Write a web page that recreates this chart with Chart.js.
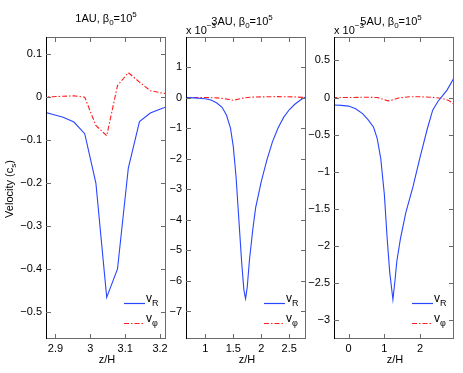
<!DOCTYPE html>
<html><head><meta charset="utf-8">
<script src="https://cdn.jsdelivr.net/npm/chart.js@4.4.0/dist/chart.umd.min.js"></script>
<style>
html,body{margin:0;padding:0;background:#fff;}
#wrap{position:relative;width:463px;height:373px;overflow:hidden;}
canvas{position:absolute;left:0;top:0;}
</style></head><body>
<div id="wrap">
<canvas id="c1" width="463" height="373"></canvas>
<canvas id="c2" width="463" height="373"></canvas>
<canvas id="c3" width="463" height="373"></canvas>
</div>
<script>
// ---------- data ----------
const panelTitles = ['1AU', '3AU', '5AU'];
const betaExp = '5';
const seriesSubs = ['R', 'φ'];

// Panel 1 (1AU)
const z1 = [2.859, 2.891, 2.922, 2.953, 2.984, 3.016, 3.047, 3.078, 3.109, 3.141, 3.172, 3.203, 3.234];
const vR1 = [-0.033, -0.040, -0.047, -0.058, -0.085, -0.20, -0.466, -0.40, -0.165, -0.057, -0.037, -0.027, -0.018];
const vPhi1 = [0.0, 0.001, 0.002, 0.003, 0.0, -0.066, -0.09, 0.027, 0.057, 0.035, 0.015, 0.010, 0.006];
const xTicks1 = [2.9, 3, 3.1, 3.2];
const yTicks1 = [-0.5, -0.4, -0.3, -0.2, -0.1, 0, 0.1];

// Panel 2 (3AU), values in units of 1e-3
const z2 = [0.60, 0.80, 1.00, 1.10, 1.20, 1.30, 1.38, 1.45, 1.50, 1.55, 1.60, 1.65, 1.69, 1.72, 1.75, 1.79, 1.85, 1.90, 2.00, 2.10, 2.20, 2.30, 2.40, 2.50, 2.60, 2.70, 2.80];
const vR2 = [0.0, -0.01, -0.04, -0.08, -0.17, -0.32, -0.58, -1.0, -1.6, -2.6, -4.0, -5.4, -6.3, -6.58, -6.2, -5.3, -4.3, -3.6, -2.75, -2.05, -1.45, -1.0, -0.65, -0.40, -0.22, -0.08, 0.03];
const zPhi2 = [0.60, 1.00, 1.20, 1.35, 1.50, 1.60, 1.70, 1.80, 2.00, 2.30, 2.60, 2.80];
const vPhi2 = [0.0, 0.0, -0.01, -0.04, -0.09, -0.05, -0.01, 0.01, 0.02, 0.03, 0.02, 0.0];
const xTicks2 = [1, 1.5, 2, 2.5];
const yTicks2 = [-7, -6, -5, -4, -3, -2, -1, 0, 1];

// Panel 3 (5AU), values in units of 1e-3
const z3 = [-0.45, -0.2, 0.0, 0.2, 0.4, 0.55, 0.7, 0.8, 0.9, 1.0, 1.08, 1.15, 1.24, 1.30, 1.35, 1.45, 1.6, 1.8, 2.0, 2.2, 2.35, 2.5, 2.6, 2.75, 2.95];
const vR3 = [-0.10, -0.105, -0.115, -0.15, -0.22, -0.30, -0.40, -0.55, -0.82, -1.30, -1.90, -2.35, -2.72, -2.45, -2.2, -1.9, -1.55, -1.2, -0.80, -0.42, -0.17, -0.05, 0.01, 0.10, 0.27];
const zPhi3 = [-0.45, 0.0, 0.5, 0.8, 0.95, 1.1, 1.25, 1.4, 1.7, 2.0, 2.3, 2.6, 2.8, 2.95];
const vPhi3 = [0.0, 0.0, 0.005, 0.0, -0.02, -0.045, -0.03, -0.005, 0.01, 0.01, 0.005, -0.01, -0.04, -0.09];
const xTicks3 = [0, 1, 2];
const yTicks3 = [-3, -2.5, -2, -1.5, -1, -0.5, 0, 0.5];

// ---------- drawing ----------
const FONT = '"Liberation Sans", Arial, Helvetica, sans-serif';
const BLUE = 'rgb(40,70,255)';
const RED = 'rgb(255,30,30)';
const FRAME = '#6a6a6a';
const DASH = [5, 2, 1.5, 2];

function fmt(v) {
  const s = String(Math.round(v * 1000) / 1000);
  return s.replace('-', '\u2212');
}

function rich(ctx, pieces, x, y, align) {
  let w = 0;
  pieces.forEach(p => { ctx.font = p.size + 'px ' + FONT; w += ctx.measureText(p.t).width; });
  let cx = align === 'center' ? x - w / 2 : x;
  ctx.textBaseline = 'alphabetic';
  ctx.textAlign = 'left';
  pieces.forEach(p => {
    ctx.font = p.size + 'px ' + FONT;
    ctx.fillText(p.t, cx, y + (p.dy || 0));
    cx += ctx.measureText(p.t).width;
  });
}

function makePanel(id, box, zr, vr, zp, vp, xT, yT, xr, yr, title, titleX, titleY, exponent, yLabel) {
  const deco = {
    id: 'deco' + id,
    afterDraw(chart) {
      const ctx = chart.ctx, a = chart.chartArea;
      const xs = chart.scales.x, ys = chart.scales.y;
      ctx.save();
      ctx.globalAlpha = 1;
      // frame
      ctx.lineWidth = 1;
      ctx.strokeStyle = FRAME;
      ctx.beginPath();
      ctx.moveTo(a.left, a.top + 0.5); ctx.lineTo(a.right, a.top + 0.5);
      ctx.moveTo(a.right - 0.5, a.top); ctx.lineTo(a.right - 0.5, a.bottom);
      ctx.moveTo(a.left, a.bottom - 0.5); ctx.lineTo(a.right, a.bottom - 0.5);
      ctx.stroke();
      ctx.strokeStyle = '#000';
      ctx.beginPath();
      ctx.moveTo(a.left + 0.5, a.top); ctx.lineTo(a.left + 0.5, a.bottom);
      ctx.stroke();
      // inward ticks
      ctx.strokeStyle = FRAME;
      ctx.beginPath();
      const TL = 5;
      xT.forEach(v => {
        const px = Math.round(xs.getPixelForValue(v)) + 0.5;
        ctx.moveTo(px, a.top); ctx.lineTo(px, a.top + TL);
        ctx.moveTo(px, a.bottom); ctx.lineTo(px, a.bottom - TL);
      });
      yT.forEach(v => {
        const py = Math.round(ys.getPixelForValue(v)) + 0.5;
        ctx.moveTo(a.left, py); ctx.lineTo(a.left + TL, py);
        ctx.moveTo(a.right, py); ctx.lineTo(a.right - TL, py);
      });
      ctx.stroke();
      // legend
      const lx0 = a.right - 42, lx1 = a.right - 21;
      ctx.lineWidth = 1.2;
      ctx.setLineDash([]);
      ctx.strokeStyle = chart.data.datasets[0].borderColor;
      ctx.beginPath(); ctx.moveTo(lx0, 303.5); ctx.lineTo(lx1, 303.5); ctx.stroke();
      ctx.strokeStyle = chart.data.datasets[1].borderColor;
      ctx.setLineDash(DASH);
      ctx.beginPath(); ctx.moveTo(lx0, 323.5); ctx.lineTo(lx1, 323.5); ctx.stroke();
      ctx.setLineDash([]);
      ctx.fillStyle = '#000';
      rich(ctx, [{t: 'v', size: 12}, {t: seriesSubs[0], size: 9, dy: 4}], lx1 + 1, 302, 'left');
      rich(ctx, [{t: 'v', size: 12}, {t: seriesSubs[1], size: 9, dy: 4}], lx1 + 1, 322, 'left');
      // title
      rich(ctx, [{t: title + ', β', size: 11}, {t: '0', size: 8, dy: 3}, {t: '=10', size: 11}, {t: betaExp, size: 8, dy: -5}], titleX, titleY, 'center');
      // exponent
      if (exponent) {
        rich(ctx, [{t: 'x 10', size: 11}, {t: '\u2212' + exponent, size: 8, dy: -6}], a.left, 34, 'left');
      }
      // x label
      ctx.font = '11px ' + FONT; ctx.textAlign = 'center'; ctx.textBaseline = 'middle';
      ctx.fillText('z/H', (a.left + a.right) / 2 + 1, 360);
      // y label
      if (yLabel) {
        ctx.save();
        ctx.translate(9, 189);
        ctx.rotate(-Math.PI / 2);
        rich(ctx, [{t: 'Velocity (c', size: 11}, {t: 's', size: 8, dy: 3}, {t: ')', size: 11}], 0, 4, 'center');
        ctx.restore();
      }
      ctx.restore();
    }
  };
  new Chart(document.getElementById(id), {
    type: 'line',
    data: {
      datasets: [
        {label: 'vR', data: zr.map((x, i) => ({x: x, y: vr[i]})), borderColor: BLUE, borderWidth: 1.1, pointRadius: 0, tension: 0, fill: false},
        {label: 'vphi', data: zp.map((x, i) => ({x: x, y: vp[i]})), borderColor: RED, borderWidth: 1.1, borderDash: DASH, pointRadius: 0, tension: 0, fill: false}
      ]
    },
    options: {
      responsive: false, animation: false, devicePixelRatio: 1,
      layout: {padding: {left: box.l - 40, right: 463 - box.r, top: box.t, bottom: 373 - box.b - 20}},
      plugins: {legend: {display: false}, tooltip: {enabled: false}, title: {display: false}},
      scales: {
        x: {
          type: 'linear', min: xr[0], max: xr[1],
          afterBuildTicks: s => { s.ticks = xT.map(v => ({value: v})); },
          afterFit: s => { s.height = 20; },
          grid: {display: false, drawTicks: false}, border: {display: false},
          ticks: {padding: 3, color: '#000', font: {family: FONT, size: 11}, callback: v => fmt(v), maxRotation: 0, autoSkip: false}
        },
        y: {
          type: 'linear', min: yr[0], max: yr[1],
          afterBuildTicks: s => { s.ticks = yT.map(v => ({value: v})); },
          afterFit: s => { s.width = 40; },
          grid: {display: false, drawTicks: false}, border: {display: false},
          ticks: {padding: 4, color: '#000', font: {family: FONT, size: 11}, callback: v => fmt(v), autoSkip: false}
        }
      }
    },
    plugins: [deco]
  });
}

makePanel('c1', {l: 46, r: 166, t: 37, b: 339}, z1, vR1, z1, vPhi1, xTicks1, yTicks1, [2.873, 3.217], [-0.563, 0.14], panelTitles[0], 106, 22, null, true);
makePanel('c2', {l: 186, r: 306, t: 37, b: 339}, z2, vR2, zPhi2, vPhi2, xTicks2, yTicks2, [0.655, 2.8], [-7.9, 1.98], panelTitles[1], 242, 25, '3', false);
makePanel('c3', {l: 334, r: 454, t: 37, b: 339}, z3, vR3, zPhi3, vPhi3, xTicks3, yTicks3, [-0.405, 2.945], [-3.25, 0.815], panelTitles[2], 391, 25, '3', false);
</script>
</body></html>
